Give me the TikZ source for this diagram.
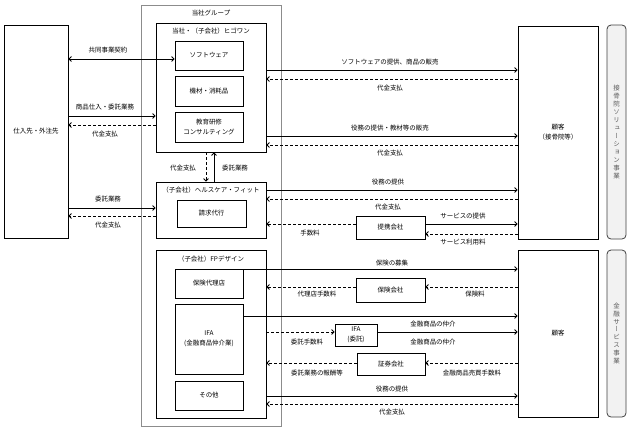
\documentclass[tikz,border=0pt]{standalone}
\usepackage{fontspec}
\usepackage{graphicx}
\setmainfont{Noto Sans CJK JP}
\newfontfamily\vertfont[RawFeature=+vert]{Noto Sans CJK JP}
\usetikzlibrary{arrows.meta}
\definecolor{sidefill}{HTML}{F2F2F2}
\definecolor{sidetext}{HTML}{5A5A5A}
\definecolor{grpline}{HTML}{8C8C8C}
\begin{document}
\begin{tikzpicture}[x=1bp,y=-1bp,
  font=\fontsize{6.5}{10}\selectfont,
  >={Straight Barb[length=2.5bp,width=5bp]},
  box/.style={draw, line width=0.8bp, inner sep=0pt, align=center},
  grpbox/.style={draw=grpline, line width=0.8bp, inner sep=0pt},
  sidebox/.style={draw=black!75, fill=sidefill, line width=0.8bp, rounded corners=4bp, inner sep=0pt, align=center, text=sidetext, font=\vertfont\fontsize{6.5}{8}\selectfont},
  lbl/.style={inner sep=0pt},
  sol/.style={line width=0.8bp, ->},
  das/.style={line width=0.8bp, ->, dash pattern=on 3bp off 2bp},
  dbl/.style={line width=0.8bp, <->}]
\useasboundingbox (0,0) rectangle (635,431);

% group frame
\node[grpbox, minimum width=140bp, minimum height=421bp] (grp) at (211,215.5) {};
\node[lbl] (grplbl) at (211,13) {当社グループ};

% left supplier
\node[box, minimum width=64bp, minimum height=213bp] (sup) at (36,131.5) {仕入先・外注先};

% Higowan
\node[box, minimum width=110bp, minimum height=129bp] (higo) at (211,87.5) {};
\node[lbl] (higolbl) at (211,31) {当社・（子会社）ヒゴワン};
\node[box, minimum width=68bp, minimum height=29bp] (soft) at (209,55.5) {ソフトウェア};
\node[box, minimum width=68bp, minimum height=30bp] (kizai) at (209,91) {機材・消耗品};
\node[box, minimum width=68bp, minimum height=30bp] (kyoiku) at (209,127) {教育研修\\コンサルティング};

% Healthcare fit
\node[box, minimum width=110bp, minimum height=56bp] (hcf) at (211,210) {};
\node[lbl] (hcflbl) at (211,190) {（子会社）ヘルスケア・フィット};
\node[box, minimum width=69bp, minimum height=27bp] (seikyu) at (211.5,213.5) {請求代行};

% FP design
\node[box, minimum width=110bp, minimum height=168bp] (fp) at (211,334) {};
\node[lbl] (fplbl) at (211,259) {（子会社）FPデザイン};
\node[box, minimum width=68bp, minimum height=29bp] (hdairi) at (209,283.5) {保険代理店};
\node[box, minimum width=68bp, minimum height=70bp] (ifa) at (209,339) {IFA\\(金融商品仲介業)};
\node[box, minimum width=68bp, minimum height=29bp] (sonota) at (209,395.5) {その他};

% middle boxes
\node[box, minimum width=69bp, minimum height=23bp] (teikei) at (390.5,227.5) {提携会社};
\node[box, minimum width=69bp, minimum height=24bp] (hkaisha) at (390.5,290) {保険会社};
\node[box, minimum width=42bp, minimum height=22bp] (ifa2) at (356,335) {IFA\\(委託)};
\node[box, minimum width=68bp, minimum height=22bp] (shoken) at (391,364) {証券会社};

% customers
\node[box, minimum width=80bp, minimum height=213bp] (cust1) at (558,132.5) {顧客\\（接骨院等）};
\node[box, minimum width=80bp, minimum height=167bp] (cust2) at (558,333.5) {顧客};

% side labels
\node[sidebox, minimum width=19bp, minimum height=214bp] (side1) at (616.5,132) {接\\骨\\院\\ソ\\リ\\ュ\\ー\\シ\\ョ\\ン\\事\\業};
\node[sidebox, minimum width=19bp, minimum height=167bp] (side2) at (616.5,333.5) {金\\融\\サ\\ー\\ビ\\ス\\事\\業};

% ---- left connectors
\draw[dbl] (sup.east |- 0,59) -- (soft.west |- 0,59);
\node[lbl] (t1) at (108,50) {共同事業契約};
\draw[sol] (sup.east |- 0,116) -- (higo.west |- 0,116);
\node[lbl] (t2) at (105,107) {商品仕入・委託業務};
\draw[das] (higo.west |- 0,125) -- (sup.east |- 0,125);
\node[lbl] (t3) at (105,134) {代金支払};
\draw[sol] (sup.east |- 0,208) -- (hcf.west |- 0,208);
\node[lbl] (t4) at (108,199) {委託業務};
\draw[das] (hcf.west |- 0,216) -- (sup.east |- 0,216);
\node[lbl] (t5) at (108,225) {代金支払};

% ---- vertical between higo and hcf
\draw[das] (higo.south -| 206,0) -- (hcf.north -| 206,0);
\draw[sol] (hcf.north -| 214,0) -- (higo.south -| 214,0);
\node[lbl] (t6) at (183,168) {代金支払};
\node[lbl] (t7) at (235,168) {委託業務};

% ---- Higowan to customer
\draw[sol] (higo.east |- 0,70) -- (cust1.west |- 0,70);
\node[lbl] (t8) at (390,62) {ソフトウェアの提供、商品の販売};
\draw[das] (cust1.west |- 0,79) -- (higo.east |- 0,79);
\node[lbl] (t9) at (390,88) {代金支払};
\draw[sol] (higo.east |- 0,136) -- (cust1.west |- 0,136);
\node[lbl] (t10) at (390,128) {役務の提供・教材等の販売};
\draw[das] (cust1.west |- 0,145) -- (higo.east |- 0,145);
\node[lbl] (t11) at (390,153) {代金支払};

% ---- HCF to customer
\draw[sol] (hcf.east |- 0,190) -- (cust1.west |- 0,190);
\node[lbl] (t12) at (388,182) {役務の提供};
\draw[das] (cust1.west |- 0,199) -- (hcf.east |- 0,199);
\node[lbl] (t13) at (388,207) {代金支払};
\draw[das] (teikei.west |- 0,224) -- (hcf.east |- 0,224);
\node[lbl] (t14) at (310,233) {手数料};
\draw[sol] (teikei.east |- 0,224) -- (cust1.west |- 0,224);
\node[lbl] (t15) at (463,216) {サービスの提供};
\draw[das] (cust1.west |- 0,234) -- (teikei.east |- 0,234);
\node[lbl] (t16) at (463,242) {サービス利用料};

% ---- FP to customer
\draw[sol] (hdairi.east |- 0,269) -- (cust2.west |- 0,269);
\node[lbl] (t17) at (392,263) {保険の募集};
\draw[das] (hkaisha.west |- 0,287) -- (fp.east |- 0,287);
\node[lbl] (t18) at (317,294) {代理店手数料};
\draw[das] (cust2.west |- 0,287) -- (hkaisha.east |- 0,287);
\node[lbl] (t19) at (475,294) {保険料};
\draw[sol] (ifa.east |- 0,316) -- (cust2.west |- 0,316);
\node[lbl] (t20) at (433,324) {金融商品の仲介};
\draw[das] (fp.east |- 0,332) -- (ifa2.west |- 0,332);
\node[lbl] (t21) at (307,342) {委託手数料};
\draw[sol] (ifa2.east |- 0,332) -- (cust2.west |- 0,332);
\node[lbl] (t22) at (433,342) {金融商品の仲介};
\draw[das] (shoken.west |- 0,363) -- (fp.east |- 0,363);
\node[lbl] (t23) at (317,373) {委託業務の報酬等};
\draw[das] (cust2.west |- 0,363) -- (shoken.east |- 0,363);
\node[lbl] (t24) at (472,373) {金融商品売買手数料};
\draw[sol] (fp.east |- 0,396) -- (cust2.west |- 0,396);
\node[lbl] (t25) at (392,389) {役務の提供};
\draw[das] (cust2.west |- 0,404) -- (fp.east |- 0,404);
\node[lbl] (t26) at (392,412) {代金支払};
\end{tikzpicture}
\end{document}
